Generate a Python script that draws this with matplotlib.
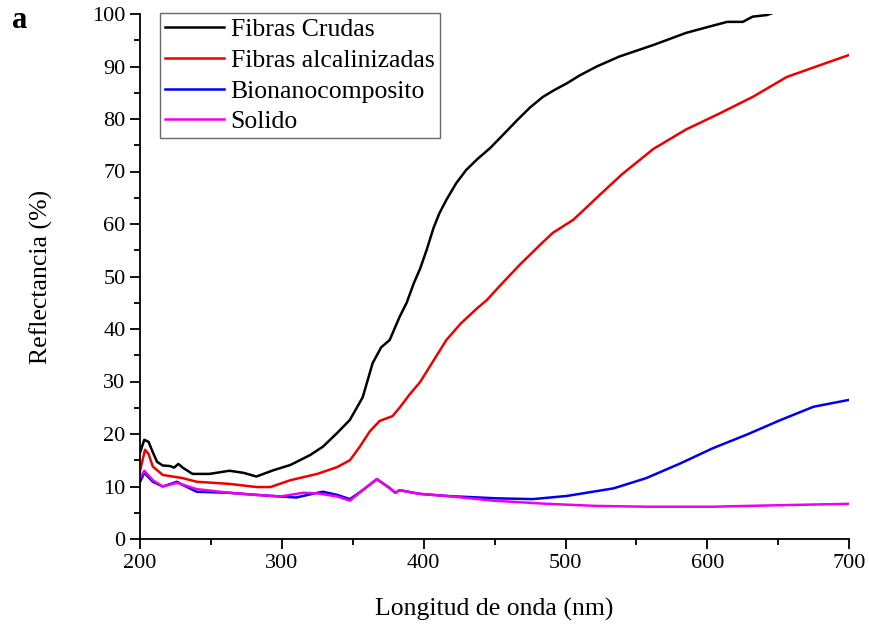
import numpy as np
import matplotlib.pyplot as plt
from matplotlib.ticker import MultipleLocator

plt.rcParams['font.family'] = ['Liberation Serif', 'DejaVu Serif']

# Fibras Crudas
wl_crudas = [200, 203, 206, 209, 212, 216, 221, 224, 227, 230, 237, 249, 263, 273,
             282, 294, 306, 320, 329, 339, 348, 357, 364, 370, 376, 383, 388, 393,
             397.5, 402, 407, 411, 416, 423, 430, 438, 447, 456, 466, 475, 484, 492,
             501, 510, 522, 538, 550, 562, 574, 585, 600, 614, 625, 632, 642, 660, 700]
r_crudas = [16.5, 18.9, 18.5, 16.5, 14.7, 14.0, 13.9, 13.6, 14.3, 13.6, 12.4, 12.4,
            13.0, 12.6, 11.9, 13.1, 14.1, 16.0, 17.6, 20.2, 22.7, 27.0, 33.5, 36.5,
            37.9, 42.3, 45.0, 48.7, 51.5, 55.0, 59.3, 62.0, 64.6, 67.8, 70.3, 72.4,
            74.5, 77.0, 79.8, 82.2, 84.2, 85.5, 86.8, 88.3, 90.0, 91.9, 93.0, 94.1,
            95.3, 96.4, 97.5, 98.5, 98.5, 99.5, 99.8, 101.5, 104.0]

# Fibras alcalinizadas
wl_alcal = [200, 203.5, 206, 209, 216, 223, 230, 240, 263, 282, 292, 306, 325, 339,
            348, 355, 362, 369, 378, 383, 390, 397.5, 407, 416, 426, 437.5, 444.5,
            454, 468, 482, 491, 505.5, 515, 524, 540, 562, 585, 609, 632, 656, 680,
            700]
r_alcal = [13.0, 17.0, 16.2, 13.8, 12.2, 11.9, 11.6, 10.9, 10.5, 9.9, 9.9, 11.2,
           12.4, 13.7, 15.0, 17.6, 20.5, 22.5, 23.4, 25.0, 27.5, 29.9, 34.0, 37.9,
           41.0, 43.9, 45.5, 48.3, 52.3, 56.0, 58.3, 60.8, 63.2, 65.5, 69.5, 74.3,
           78.0, 81.1, 84.2, 88.0, 90.3, 92.2]

# Bionanocomposito
wl_bio = [200, 203, 209, 216, 226, 230, 240, 263, 282, 299, 310, 325, 329, 339, 348,
          357, 367, 376, 380, 383, 397, 416, 451, 477, 501, 534, 557, 581, 604,
          628, 652, 675, 700]
r_bio = [10.9, 12.6, 10.9, 10.0, 10.9, 10.3, 9.0, 8.8, 8.4, 8.1, 7.9, 8.8, 9.0, 8.4,
         7.6, 9.3, 11.4, 9.7, 8.8, 9.3, 8.6, 8.2, 7.75, 7.6, 8.2, 9.65, 11.6, 14.4,
         17.3, 19.9, 22.7, 25.2, 26.5]

# Solido
wl_solido = [200, 203, 209, 216, 226, 240, 263, 282, 299, 315, 325, 339, 348, 357,
             367, 376, 380, 383, 397, 416, 449, 487, 522, 557, 604, 628, 663, 700]
r_solido = [11.6, 13.0, 11.2, 10.0, 10.7, 9.5, 8.8, 8.4, 8.1, 8.8, 8.7, 8.1, 7.3,
            9.3, 11.4, 9.7, 8.8, 9.3, 8.6, 8.2, 7.3, 6.7, 6.3, 6.15, 6.15, 6.3,
            6.5, 6.7]

fig = plt.figure(figsize=(8.7, 6.25), dpi=100)
ax = fig.add_axes([0.161, 0.1376, 0.815, 0.84])

lw = 1.8
ax.plot(wl_crudas, r_crudas, color='black', lw=lw, label='Fibras Crudas')
ax.plot(wl_alcal, r_alcal, color='#ee0000', lw=lw, label='Fibras alcalinizadas')
ax.plot(wl_bio, r_bio, color='#0000ee', lw=lw, label='Bionanocomposito')
ax.plot(wl_solido, r_solido, color='#ee00ee', lw=lw, label='Solido')

ax.set_xlim(200, 700)
ax.set_ylim(0, 100)
ax.xaxis.set_major_locator(MultipleLocator(100))
ax.xaxis.set_minor_locator(MultipleLocator(50))
ax.yaxis.set_major_locator(MultipleLocator(10))
ax.yaxis.set_minor_locator(MultipleLocator(5))
ax.tick_params(which='major', direction='out', length=7, width=1.3, labelsize=16)
ax.tick_params(which='minor', direction='out', length=4, width=1.3)
ax.spines['top'].set_visible(False)
ax.spines['right'].set_visible(False)
for s in ('left', 'bottom'):
    ax.spines[s].set_linewidth(1.3)

ax.set_xlabel('Longitud de onda (nm)', fontsize=18.5, labelpad=18)
ax.set_ylabel('Reflectancia (%)', fontsize=18.5, labelpad=28)

leg = ax.legend(loc='upper left', bbox_to_anchor=(160 / 870, 1 - 13 / 625),
                bbox_transform=fig.transFigure, fontsize=18.5, frameon=True,
                fancybox=False, edgecolor='#444444', handlelength=2.3,
                handletextpad=0.25, borderpad=0.2, labelspacing=0.3,
                borderaxespad=0)
leg.get_frame().set_linewidth(1.0)

fig.text(12 / 870, 1 - 20 / 625, 'a', fontsize=22, fontweight='bold',
         va='center', ha='left')

fig.savefig('out.png', dpi=100)
